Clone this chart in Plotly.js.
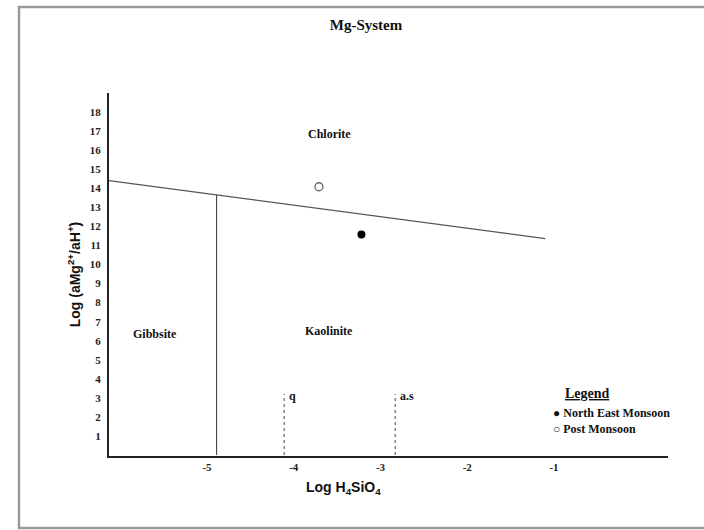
<!DOCTYPE html>
<html>
<head>
<meta charset="utf-8">
<script src="https://cdn.plot.ly/plotly-3.0.1.min.js"></script>
<style>html,body{margin:0;padding:0;background:#fff;overflow:hidden;}#chart{width:704px;height:530px;}</style>
</head>
<body>
<div id="chart"></div>
<script>
// Phase boundaries (Log H4SiO4, Log aMg2+/aH+)
var chloriteBoundaryX = [-6.13, -1.10];
var chloriteBoundaryY = [14.4, 11.36];
var gibbsiteKaoliniteX = [-4.89, -4.89];
var gibbsiteKaoliniteY = [0, 13.65];
var quartzX = [-4.11, -4.11];
var quartzY = [0, 3.2];
var amorphSilicaX = [-2.83, -2.83];
var amorphSilicaY = [0, 3.2];
// Samples
var seriesNames = ["North East Monsoon", "Post Monsoon"];
var neMonsoonX = [-3.22];
var neMonsoonY = [11.57];
var postMonsoonX = [-3.71];
var postMonsoonY = [14.08];
// Tick labels
var xTickVals = [-5, -4, -3, -2, -1];
var xTickText = ["-5", "-4", "-3", "-2", "-1"];
var yTickVals = [1,2,3,4,5,6,7,8,9,10,11,12,13,14,15,16,17,18];
var yTickText = yTickVals.map(String);
// Field labels
var fieldNames = ["Chlorite", "Gibbsite", "Kaolinite"];
var fieldX = [-3.59, -5.6, -3.59];
var fieldY = [16.85, 6.33, 6.5];

var serif = "Liberation Serif, Times New Roman, serif";
var sans = "Liberation Sans, Arial, sans-serif";

var traces = [
  {x: chloriteBoundaryX, y: chloriteBoundaryY, mode: "lines", line: {color: "#555", width: 1.3}, showlegend: false, hoverinfo: "skip"},
  {x: gibbsiteKaoliniteX, y: gibbsiteKaoliniteY, mode: "lines", line: {color: "#444", width: 1.1}, showlegend: false, hoverinfo: "skip"},
  {x: quartzX, y: quartzY, mode: "lines", line: {color: "#888", width: 1.6, dash: "dot"}, showlegend: false, hoverinfo: "skip"},
  {x: amorphSilicaX, y: amorphSilicaY, mode: "lines", line: {color: "#888", width: 1.6, dash: "dot"}, showlegend: false, hoverinfo: "skip"},
  {x: neMonsoonX, y: neMonsoonY, mode: "markers", name: seriesNames[0], marker: {symbol: "circle", size: 8, color: "#000"}, showlegend: false},
  {x: postMonsoonX, y: postMonsoonY, mode: "markers", name: seriesNames[1], marker: {symbol: "circle-open", size: 8, color: "#666", line: {width: 1.3}}, showlegend: false}
];

var annotations = [];
for (var i = 0; i < fieldNames.length; i++) {
  annotations.push({x: fieldX[i], y: fieldY[i], xref: "x", yref: "y", text: "<b>" + fieldNames[i] + "</b>", showarrow: false, font: {family: serif, size: 12, color: "#111"}});
}
annotations.push({x: quartzX[0] + 0.03, y: quartzY[1] - 0.1, xref: "x", yref: "y", xanchor: "left", text: "<b>q</b>", showarrow: false, font: {family: serif, size: 12, color: "#111"}});
annotations.push({x: amorphSilicaX[0] + 0.03, y: amorphSilicaY[1] - 0.1, xref: "x", yref: "y", xanchor: "left", text: "<b>a.s</b>", showarrow: false, font: {family: serif, size: 12, color: "#111"}});
// Legend block and x title, given in container pixels then converted to plot-area paper coords
var L = 109, R = 668, T = 93, B = 456;
function pa(cx, cy, extra) {
  var a = {x: (cx - L) / (R - L), y: (B - cy) / (B - T), xref: "paper", yref: "paper", showarrow: false, yanchor: "middle"};
  for (var k in extra) a[k] = extra[k];
  return a;
}
annotations.push(pa(587, 393, {text: "<b><u>Legend</u></b>", font: {family: serif, size: 14, color: "#111"}, xanchor: "center"}));
annotations.push(pa(551, 413, {text: "<b>● " + seriesNames[0] + "</b>", font: {family: serif, size: 12, color: "#111"}, xanchor: "left"}));
annotations.push(pa(551, 429, {text: "<b>○ " + seriesNames[1] + "</b>", font: {family: serif, size: 12, color: "#111"}, xanchor: "left"}));
annotations.push(pa(343, 488, {text: "<b>Log H<sub>4</sub>SiO<sub>4</sub></b>", font: {family: sans, size: 14, color: "#111"}, xanchor: "center"}));

function px2x(v){ return (v - L) / (R - L); }
function px2y(v){ return (B - v) / (B - T); }
var framePath = "M " + px2x(740) + " " + px2y(7) + " L " + px2x(19) + " " + px2y(7) + " L " + px2x(19) + " " + px2y(528) + " L " + px2x(740) + " " + px2y(528);

var layout = {
  width: 704, height: 530,
  margin: {l: L, r: 704 - R, t: T, b: 530 - B},
  paper_bgcolor: "#fff", plot_bgcolor: "#fff",
  title: {text: "<b>Mg-System</b>", font: {family: serif, size: 15, color: "#111"}, x: 366/704, xref: "container", xanchor: "center", y: 1 - 25/530, yref: "container", yanchor: "middle"},
  xaxis: {range: [-6.13, 0.314], tickvals: xTickVals, ticktext: xTickText, showgrid: false, zeroline: false, showline: true, linecolor: "#222", linewidth: 2, ticks: "", tickfont: {family: serif, size: 11, color: "#222", weight: "bold"}, fixedrange: true},
  yaxis: {range: [-0.05, 19.0], tickvals: yTickVals, ticktext: yTickText, showgrid: false, zeroline: false, showline: true, linecolor: "#222", linewidth: 2, ticks: "", ticklabelstandoff: 4, tickfont: {family: serif, size: 11, color: "#222", weight: "bold"}, title: {text: "<b>Log (aMg<sup>2+</sup>/aH<sup>+</sup>)</b>", font: {family: sans, size: 14, color: "#111"}, standoff: 6}, fixedrange: true},
  showlegend: false,
  annotations: annotations,
  shapes: [
    {type: "path", xref: "paper", yref: "paper", path: framePath, line: {color: "#9a9a9a", width: 2.5}, layer: "below"}
  ]
};

Plotly.newPlot("chart", traces, layout, {displayModeBar: false, staticPlot: true});
</script>
</body>
</html>
